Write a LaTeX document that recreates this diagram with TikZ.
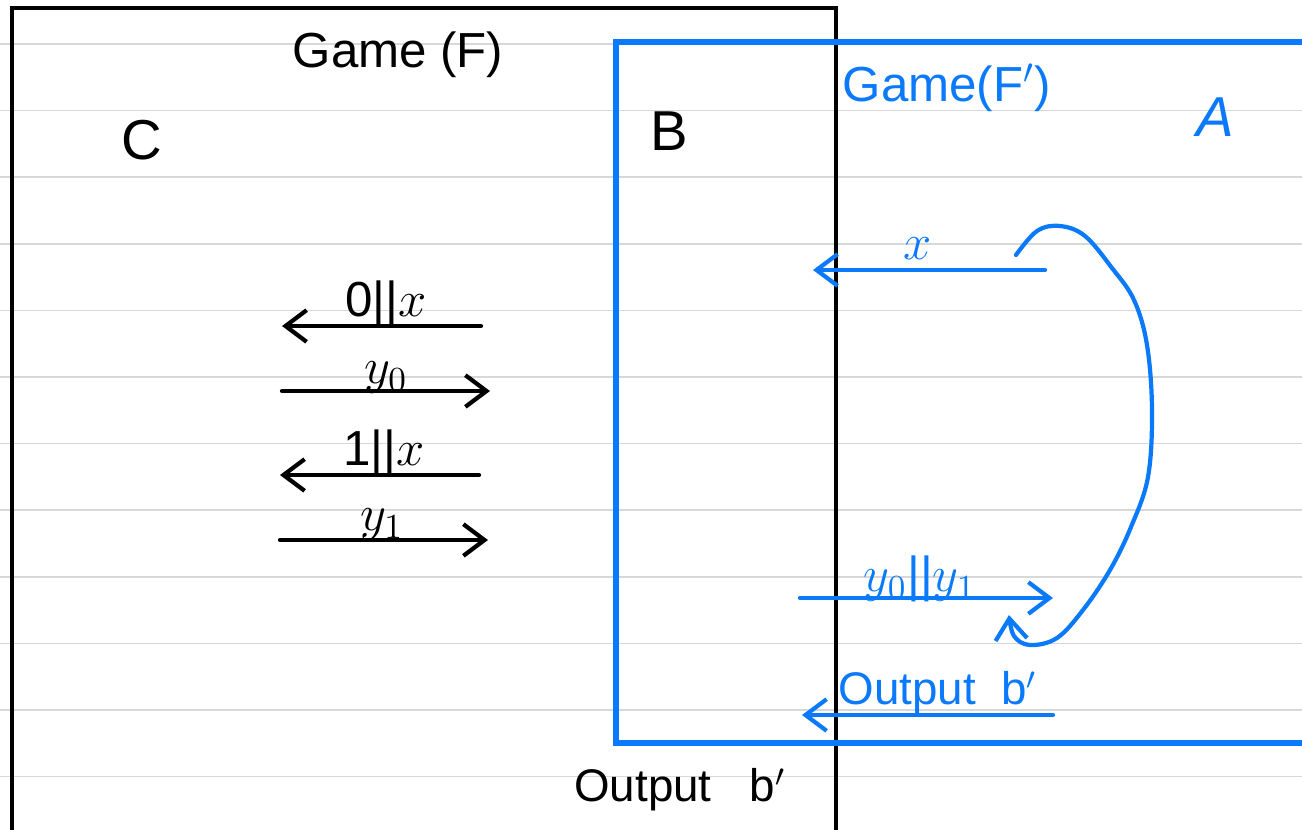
\documentclass[tikz,border=0pt]{standalone}
\usepackage{fontspec}
\setmainfont{Liberation Sans}
\usetikzlibrary{arrows.meta}
\definecolor{pen}{RGB}{10,122,250}
\definecolor{rule}{RGB}{216,216,216}
\tikzset{
  ink/.style={line width=1.2pt, line cap=round},
  blueink/.style={line width=1.2pt, line cap=round, draw=pen},
  tip/.style={-{Straight Barb[length=6pt,width=9pt,line width=1.2pt]}},
  lbl/.style={inner sep=0pt, font=\fontsize{14}{14}\selectfont},
  bigl/.style={inner sep=0pt, font=\fontsize{14}{14}\selectfont},
  letter/.style={inner sep=0pt, font=\fontsize{16}{16}\selectfont},
}
\begin{document}
\begin{tikzpicture}[x=0.01cm, y=-0.01cm]
\useasboundingbox (0,0) rectangle (1302,830);
% lined paper
\foreach \k in {0,...,11} {
  \draw[rule, line width=0.5pt] (0,{44+66.6*\k}) -- (1302,{44+66.6*\k});
}
% boxes
\draw[ink, line width=1.3pt] (12,832) -- (12,8) -- (836,8) -- (836,832);
\draw[blueink, line width=1.5pt] (1310,42) -- (616,42) -- (616,743) -- (1310,743);
% labels
\node[bigl] (gF) at (398,55) {Game (F)};
\node[letter] (C) at (142,140) {C};
\node[letter] (B) at (669,131) {B};
\node[bigl, text=pen] (gFp) at (947,88) {Game(F$'$)};
\node[letter, text=pen] (A) at (1215,117) {\itshape A};
\node[lbl, font=\fontsize{13}{13}\selectfont] (outB) at (680,790) {Output~~~b$'$};
% black messages
\coordinate (m1s) at (481,326); \coordinate (m1e) at (282,326);
\coordinate (m2s) at (282,391); \coordinate (m2e) at (490,391);
\coordinate (m3s) at (479,475); \coordinate (m3e) at (280,475);
\coordinate (m4s) at (280,540); \coordinate (m4e) at (488,540);
\draw[ink, tip] (m1s) -- (m1e);
\draw[ink, tip] (m2s) -- (m2e);
\draw[ink, tip] (m3s) -- (m3e);
\draw[ink, tip] (m4s) -- (m4e);
\node[lbl] (l1) at (386,304) {0||$x$};
\node[lbl] (l2) at (386,378) {$y_0$};
\node[lbl] (l3) at (384,453) {1||$x$};
\node[lbl] (l4) at (382,525) {$y_1$};
% blue messages
\coordinate (b1s) at (1045,270); \coordinate (b1e) at (813,270);
\coordinate (b2s) at (800,598);  \coordinate (b2e) at (1053,598);
\coordinate (b3s) at (1053,715); \coordinate (b3e) at (802,715);
\draw[blueink, tip] (b1s) -- (b1e);
\draw[blueink, tip] (b2s) -- (b2e);
\draw[blueink, tip] (b3s) -- (b3e);
\node[lbl, text=pen] (k1) at (918,249) {$x$};
\node[lbl, text=pen] (k2) at (920,579) {$y_0$||$y_1$};
\node[lbl, text=pen, font=\fontsize{13}{13}\selectfont] (k3) at (938,693) {Output~~b$'$};
% loop arrow
\draw[blueink, tip] plot[smooth, tension=0.6] coordinates {
  (1016,255) (1037,231) (1060,226) (1085,236) (1112,268) (1134,300)
  (1147,345) (1152,410) (1148,477) (1131,527) (1110,570) (1083,610)
  (1057,638) (1030,645) (1014,636) (1009,615)};
\end{tikzpicture}
\end{document}
